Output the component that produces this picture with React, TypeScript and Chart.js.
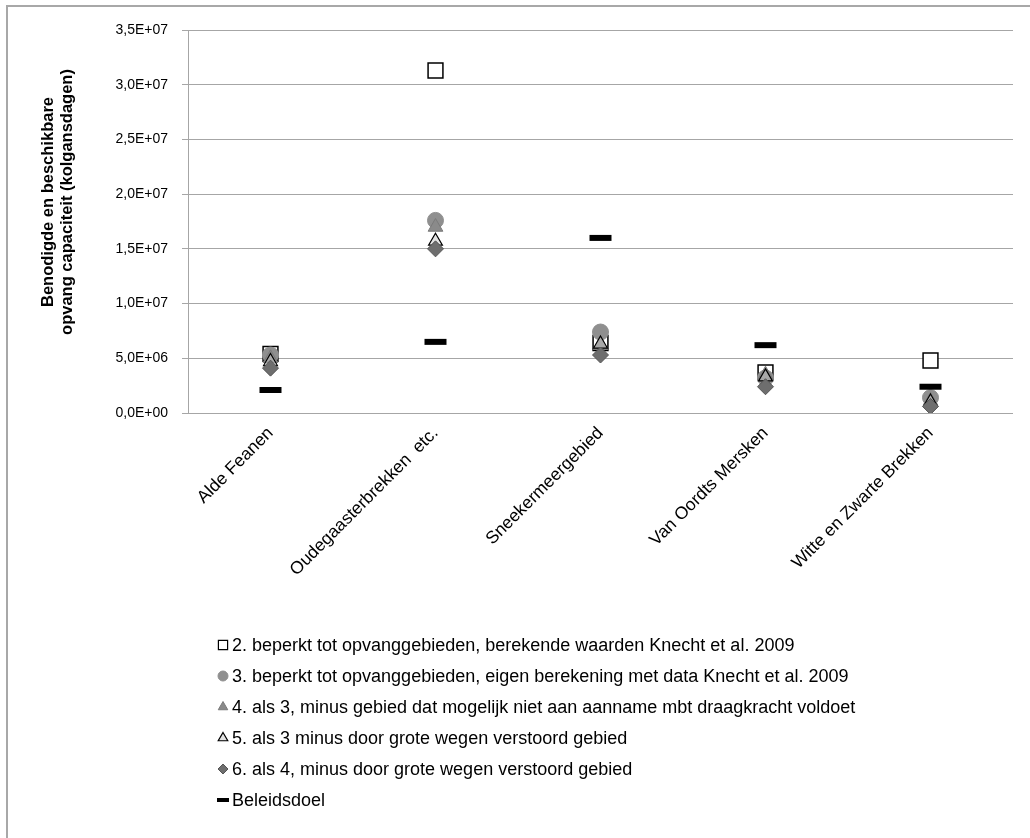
import React, { useEffect, useRef } from 'react';
import { Chart, registerables } from 'chart.js';
import { drawPoint } from 'chart.js/helpers';

Chart.register(...registerables);

const categories = [
  'Alde Feanen',
  'Oudegaasterbrekken  etc.',
  'Sneekermeergebied',
  'Van Oordts Mersken',
  'Witte en Zwarte Brekken',
];

const seriesNames = [
  '2. beperkt tot opvanggebieden, berekende waarden Knecht et al. 2009',
  '3. beperkt tot opvanggebieden, eigen berekening met data Knecht et al. 2009',
  '4. als 3, minus gebied dat mogelijk niet aan aanname mbt draagkracht voldoet',
  '5. als 3 minus door grote wegen verstoord gebied',
  '6. als 4, minus door grote wegen verstoord gebied',
  'Beleidsdoel',
];

const series2 = [5.4e6, 3.13e7, 6.4e6, 3.7e6, 4.8e6];
const series3 = [5.3e6, 1.76e7, 7.4e6, 3.2e6, 1.4e6];
const series4 = [5.0e6, 1.70e7, 6.2e6, 3.5e6, 1.1e6];
const series5 = [4.7e6, 1.57e7, 6.3e6, 3.3e6, 1.0e6];
const series6 = [4.1e6, 1.50e7, 5.3e6, 2.4e6, 0.6e6];
const beleidsdoel = [2.1e6, 6.5e6, 1.6e7, 6.2e6, 2.4e6];

const yMin = 0;
const yMax = 3.5e7;
const yStep = 5e6;

const yTitle = ['Benodigde en beschikbare', 'opvang capaciteit (kolgansdagen)'];

function fmt(v: number): string {
  const [m, e] = v.toExponential(1).split('e');
  const sign = e[0] === '-' ? '-' : '+';
  const ex = Math.abs(parseInt(e, 10)).toString().padStart(2, '0');
  return m.replace('.', ',') + 'E' + sign + ex;
}

const FONT = 'Arial, "Liberation Sans", sans-serif';

export default function App() {
  const ref = useRef<HTMLCanvasElement | null>(null);

  useEffect(() => {
    document.body.style.margin = '0';
    const canvas = ref.current;
    if (!canvas) return;

    const styles = [
      { data: series2, pointStyle: 'rect', radius: 10.5, bg: '#ffffff', border: '#000000', bw: 1.5, lr: 6.5 },
      { data: series3, pointStyle: 'circle', radius: 8, bg: '#8f8f8f', border: '#8f8f8f', bw: 1, lr: 5 },
      { data: series4, pointStyle: 'triangle', radius: 8.5, bg: '#8a8a8a', border: '#7a7a7a', bw: 1, lr: 5.5 },
      { data: series5, pointStyle: 'triangle', radius: 8, bg: 'rgba(200,200,200,0.5)', border: '#000000', bw: 1.2, lr: 5.5 },
      { data: series6, pointStyle: 'rectRot', radius: 8, bg: '#6e6e6e', border: '#555555', bw: 1, lr: 5 },
      { data: beleidsdoel, pointStyle: 'line', radius: 11, bg: '#000000', border: '#000000', bw: 6, lr: 5 },
    ];

    const datasets = styles.map((s, i) => ({
      label: seriesNames[i],
      data: s.data,
      showLine: false,
      pointStyle: s.pointStyle as any,
      pointRadius: s.radius,
      pointHoverRadius: s.radius,
      pointBackgroundColor: s.bg,
      pointBorderColor: s.border,
      pointBorderWidth: s.bw,
      backgroundColor: s.bg,
      borderColor: s.border,
      order: styles.length - i,
    }));

    const decor = {
      id: 'decor',
      afterDraw(chart: any) {
        const ctx = chart.ctx as CanvasRenderingContext2D;
        ctx.save();
        // outer frame (left & top)
        ctx.strokeStyle = '#a8a8a8';
        ctx.lineWidth = 2;
        ctx.beginPath();
        ctx.moveTo(7, 838);
        ctx.lineTo(7, 6);
        ctx.lineTo(1030, 6);
        ctx.stroke();

        // y title
        ctx.fillStyle = '#000';
        ctx.font = `bold 16.5px ${FONT}`;
        ctx.textAlign = 'center';
        ctx.textBaseline = 'middle';
        const cy = 202;
        const xs = [48, 67];
        yTitle.forEach((t, i) => {
          ctx.save();
          ctx.translate(xs[i], cy);
          ctx.rotate(-Math.PI / 2);
          ctx.fillText(t, 0, 0);
          ctx.restore();
        });

        // legend
        ctx.font = `18px ${FONT}`;
        ctx.textAlign = 'left';
        ctx.textBaseline = 'middle';
        const x0 = 223;
        const y0 = 645;
        const dy = 31;
        styles.forEach((s, i) => {
          const y = y0 + dy * i;
          ctx.save();
          ctx.fillStyle = s.bg;
          ctx.strokeStyle = s.border;
          ctx.lineWidth = s.pointStyle === 'line' ? 4 : Math.min(s.bw, 1.2);
          drawPoint(ctx, { pointStyle: s.pointStyle as any, radius: s.pointStyle === 'line' ? 6 : s.lr, borderWidth: ctx.lineWidth, rotation: 0 } as any, x0, y);
          ctx.restore();
          ctx.fillStyle = '#000';
          ctx.fillText(seriesNames[i], x0 + 9, y + 1);
        });
        ctx.restore();
      },
    };

    const chart = new Chart(canvas, {
      type: 'line',
      data: { labels: categories, datasets: datasets as any },
      options: {
        animation: false,
        responsive: false,
        devicePixelRatio: 1,
        layout: { padding: { left: 0, top: 30, right: 15, bottom: 0 } },
        plugins: {
          legend: { display: false },
          tooltip: { enabled: false },
        },
        scales: {
          x: {
            offset: true,
            grid: { display: false, drawTicks: false },
            border: { display: false },
            ticks: {
              maxRotation: 45,
              minRotation: 45,
              autoSkip: false,
              padding: 10,
              color: '#000',
              font: { family: FONT, size: 17.5 },
            },
            afterFit(scale: any) {
              scale.height = 838 - 413;
            },
          },
          y: {
            min: yMin,
            max: yMax,
            grid: { color: '#a6a6a6', lineWidth: 1, tickLength: 6, drawTicks: true, tickColor: '#a6a6a6' },
            border: { display: true, color: '#a6a6a6', width: 1 },
            ticks: {
              stepSize: yStep,
              padding: 14,
              color: '#000',
              font: { family: FONT, size: 14 },
              callback: (v: any) => fmt(Number(v)),
            },
            afterFit(scale: any) {
              scale.width = 188;
            },
          },
        },
      },
      plugins: [decor],
    });

    return () => chart.destroy();
  }, []);

  return (
    <div style={{ width: 1030, height: 838, background: '#fff' }}>
      <canvas ref={ref} width={1030} height={838} style={{ display: 'block' }} />
    </div>
  );
}
